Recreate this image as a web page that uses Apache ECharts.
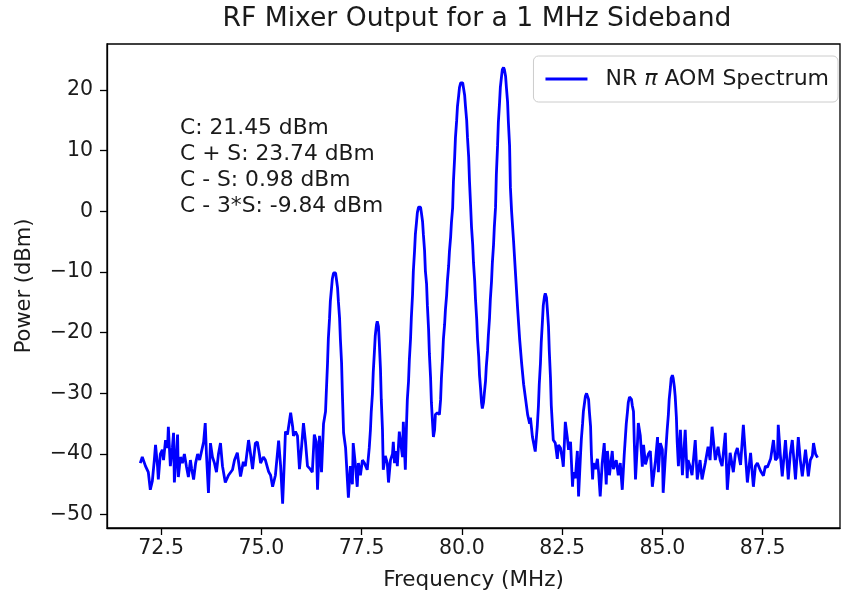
<!DOCTYPE html>
<html><head><meta charset="utf-8">
<script src="https://cdn.jsdelivr.net/npm/echarts@6/dist/echarts.min.js"></script>
<style>html,body{margin:0;padding:0;background:#fff}#c{width:844px;height:601px}</style>
</head><body><div id="c"></div>
<script>
// Frequency (MHz) samples
const freq = [
71.98,72.03,72.11,72.18,72.23,72.28,72.33,72.36,72.41,72.43,72.48,72.53,72.56,72.61,72.66,72.68,72.73,72.78,72.81,72.83,
72.88,72.91,72.93,72.98,73.03,73.08,73.13,73.18,73.23,73.26,73.31,73.36,73.41,73.46,73.51,73.56,73.60,73.63,73.68,73.73,
73.78,73.83,73.88,73.93,73.98,74.03,74.10,74.18,74.28,74.33,74.40,74.48,74.55,74.60,74.68,74.73,74.78,74.85,74.90,74.95,
74.98,75.05,75.10,75.18,75.23,75.28,75.35,75.43,75.48,75.53,75.58,75.60,75.65,75.73,75.78,75.80,75.85,75.90,75.95,76.00,
76.05,76.10,76.15,76.22,76.27,76.32,76.37,76.40,76.45,76.50,76.55,76.60,76.62,76.65,76.67,76.70,76.72,76.75,76.77,76.80,
76.82,76.85,76.87,76.90,76.92,76.95,76.97,77.00,77.02,77.05,77.10,77.12,77.17,77.22,77.27,77.29,77.34,77.39,77.42,77.47,
77.52,77.57,77.59,77.64,77.69,77.72,77.74,77.77,77.79,77.82,77.84,77.87,77.89,77.92,77.94,77.97,77.99,78.02,78.04,78.09,
78.14,78.17,78.22,78.27,78.29,78.32,78.37,78.39,78.44,78.49,78.52,78.54,78.59,78.62,78.64,78.67,78.69,78.72,78.74,78.77,
78.79,78.82,78.84,78.87,78.89,78.92,78.94,78.97,78.99,79.02,79.04,79.07,79.09,79.12,79.14,79.17,79.19,79.22,79.24,79.27,
79.29,79.32,79.34,79.39,79.44,79.47,79.49,79.52,79.54,79.57,79.59,79.62,79.64,79.67,79.69,79.72,79.74,79.77,79.79,79.82,
79.84,79.87,79.89,79.92,79.94,79.97,79.99,80.02,80.04,80.07,80.09,80.12,80.14,80.17,80.19,80.22,80.24,80.27,80.29,80.32,
80.34,80.37,80.39,80.42,80.44,80.47,80.49,80.51,80.54,80.56,80.59,80.61,80.64,80.66,80.69,80.71,80.74,80.76,80.79,80.81,
80.84,80.86,80.89,80.91,80.94,80.96,80.99,81.01,81.04,81.06,81.09,81.11,81.14,81.16,81.19,81.21,81.24,81.29,81.34,81.39,
81.44,81.49,81.54,81.59,81.64,81.69,81.71,81.76,81.83,81.88,81.91,81.93,81.96,81.98,82.01,82.03,82.06,82.08,82.11,82.13,
82.16,82.18,82.21,82.23,82.26,82.28,82.33,82.38,82.41,82.46,82.51,82.53,82.58,82.63,82.66,82.71,82.76,82.78,82.83,82.88,
82.91,82.96,82.98,83.01,83.03,83.06,83.08,83.11,83.13,83.16,83.18,83.21,83.23,83.26,83.28,83.33,83.38,83.41,83.45,83.50,
83.55,83.60,83.63,83.68,83.75,83.78,83.85,83.90,83.95,84.00,84.05,84.08,84.10,84.13,84.15,84.18,84.20,84.23,84.25,84.28,
84.30,84.33,84.38,84.40,84.45,84.50,84.53,84.58,84.65,84.70,84.75,84.83,84.88,84.90,84.95,85.00,85.02,85.07,85.10,85.12,
85.15,85.17,85.20,85.22,85.25,85.27,85.30,85.32,85.35,85.37,85.40,85.45,85.50,85.57,85.62,85.64,85.69,85.74,85.82,85.87,
85.94,85.99,86.07,86.14,86.19,86.24,86.32,86.39,86.44,86.49,86.57,86.62,86.69,86.77,86.82,86.87,86.95,87.02,87.07,87.12,
87.20,87.27,87.32,87.37,87.45,87.52,87.57,87.62,87.70,87.77,87.82,87.87,87.89,87.94,87.99,88.07,88.14,88.19,88.24,88.32,
88.39,88.44,88.49,88.57,88.64,88.69,88.74,88.77,88.82,88.87
];
// Power (dBm) at each frequency sample
const power = [
-41.5,-40.5,-42,-43,-45.9,-44.5,-41,-38.5,-42,-44.2,-40,-39.3,-41,-37.7,-39,-35.5,-42,-39,-36.5,-44.7,
-40,-36.8,-43.8,-40.5,-41.5,-40,-42,-43.8,-41,-42.4,-44.2,-41.5,-40,-41,-39.5,-38,-34.9,-40,-46.4,-38.2,
-40.5,-41.5,-43,-40,-38.2,-42,-44.7,-43.5,-42.6,-41,-39.8,-43.7,-41.3,-42,-37.7,-40,-42.5,-38.2,-38,-40,
-41.5,-40.5,-41,-42.9,-43.5,-45.4,-43.5,-37.8,-42,-48.2,-40,-36.3,-36.8,-33.2,-35.5,-37,-36.3,-37,-42.5,-39,
-34.9,-38,-42,-42.5,-43,-36.8,-38,-45.9,-37,-43,-35,-33,-29.7,-25,-21,-17.6,-14.8,-12.6,-11.1,-10.15,
-9.84,-10.15,-11.1,-12.6,-14.8,-17.6,-21,-25,-30,-36.5,-39,-39.3,-47.2,-42,-45,-38.2,-41.5,-45.4,-41.5,-43.5,
-41,-41.5,-41.2,-42.6,-39,-36,-33,-30,-26.5,-23,-20.5,-18.7,-18.1,-19,-21.5,-26,-31,-36,-42.6,-40.3,
-41.5,-44.7,-41,-40,-38,-41.5,-39.5,-42,-36.3,-39,-40.5,-34.7,-42.6,-35,-31,-28,-24.5,-21,-17.5,-13.7,
-9.8,-6.5,-3.8,-1.7,-0.2,0.7,0.98,0.7,-0.2,-1.7,-3.8,-6.5,-9.8,-12,-15.5,-19.5,-23.5,-27.5,-31.5,-35,
-37.2,-36,-33.5,-33.2,-33.5,-31,-27.5,-24,-21,-18.6,-16.2,-13.8,-11.4,-9,-6.6,-4.2,-1.8,0.6,5,8.9,
12.2,15,17.3,19.1,20.4,21.2,21.45,21.2,20.4,19.1,17.3,15,12.2,8.9,5,0.6,-2.5,-5.5,-8.5,-11.5,
-14.5,-17.8,-21,-24,-27,-29.5,-31.5,-32.5,-31.5,-30,-28,-25.5,-23,-20.5,-17.5,-14.5,-11.5,-8.5,-5.5,-2.5,
0.7,6.1,10.8,14.7,18,20.5,22.3,23.4,23.74,23.4,22.3,20.5,18,14.7,10.8,4,0,-5,-10.5,-16,
-21,-25,-28.5,-31,-33.5,-35,-34,-37.2,-39.6,-35.5,-32,-28.5,-25,-21.5,-18,-15.5,-14,-13.5,-14.2,-16,
-19,-23,-27.5,-32,-35.5,-37.7,-38.2,-40.8,-38.5,-39,-41,-42.1,-34.7,-37.3,-39.3,-38,-45.4,-43,-44,-39.5,
-47,-40,-37.5,-35,-33,-31.5,-30.5,-30,-30.1,-31,-33,-35.5,-40,-44.2,-41.5,-42.5,-40.8,-43,-47,-41.5,
-38.2,-45,-39.5,-43.5,-39.5,-42.5,-41,-43.5,-41.5,-45.9,-40,-37,-35,-33,-31.5,-30.6,-30.4,-31,-32,-33,
-38,-44.2,-38,-34.9,-37,-42.1,-38.5,-41.7,-40,-39.5,-45.4,-41,-37.2,-43,-38.2,-39.3,-46.4,-41,-38,-36,
-33.5,-31,-29,-27.5,-27,-27.5,-29,-30.5,-34,-38,-42,-36,-43.5,-36,-44,-41,-42,-43.5,-37.7,-44.2,
-41,-44.2,-41.5,-38.8,-41,-35.5,-41,-38.8,-41,-42,-36.5,-45.9,-39.8,-43,-40,-39,-41.8,-35.2,-40,-44.7,
-39.8,-45.4,-42,-41.5,-42.8,-43.6,-42,-42.2,-40.8,-37.7,-41,-40.6,-35.2,-40,-43.7,-37.7,-44.2,-40,-37.7,-44.2,
-37.2,-41,-43.7,-39.3,-43.7,-41,-40.3,-38.2,-40,-40.6
];
const xTicks = [72.5, 75, 77.5, 80, 82.5, 85, 87.5];
const yTicks = [-50, -40, -30, -20, -10, 0, 10, 20];
const seriesName = 'NR π AOM Spectrum';
const titleText = 'RF Mixer Output for a 1 MHz Sideband';
const annotationLines = ['C: 21.45 dBm', 'C + S: 23.74 dBm', 'C - S: 0.98 dBm', 'C - 3*S: -9.84 dBm'];

const FONT = 'DejaVu Sans';
const TXT = '#1a1a1a';
const data = freq.map((f, i) => [f, power[i]]);
const chart = echarts.init(document.getElementById('c'), null, { renderer: 'canvas' });
chart.setOption({
  animation: false,
  backgroundColor: '#fff',
  grid: { left: 107, right: 4, top: 44, bottom: 73, show: true, borderColor: '#000', borderWidth: 1.3, backgroundColor: 'transparent' },
  xAxis: {
    type: 'value', min: 71.15, max: 89.43,
    name: 'Frequency (MHz)', nameLocation: 'middle', nameGap: 41,
    nameTextStyle: { fontFamily: FONT, fontSize: 21.5, color: TXT },
    axisLine: { show: true, onZero: false, lineStyle: { color: '#000', width: 1.3 } },
    axisTick: { show: true, customValues: xTicks, length: 7, lineStyle: { color: '#000', width: 1.3 } },
    axisLabel: { customValues: xTicks, formatter: v => v.toFixed(1), margin: 10, fontFamily: FONT, fontSize: 20.5, color: TXT },
    splitLine: { show: false }
  },
  yAxis: {
    type: 'value', min: -52.2, max: 27.6,
    name: 'Power (dBm)', nameLocation: 'middle', nameGap: 72, nameRotate: 90,
    nameTextStyle: { fontFamily: FONT, fontSize: 21, color: TXT },
    axisLine: { show: true, onZero: false, lineStyle: { color: '#000', width: 1.3 } },
    axisTick: { show: true, customValues: yTicks, length: 7, lineStyle: { color: '#000', width: 1.3 } },
    axisLabel: { customValues: yTicks, formatter: v => (v < 0 ? '\u2212' + Math.abs(v) : String(v)), margin: 14, fontFamily: FONT, fontSize: 20.5, color: TXT },
    splitLine: { show: false }
  },
  legend: {
    right: 6, top: 56,
    backgroundColor: 'rgba(255,255,255,0.8)', borderColor: '#cccccc', borderWidth: 1, borderRadius: 5,
    padding: [12, 9, 12, 12],
    icon: 'rect', itemWidth: 42, itemHeight: 3,
    formatter: () => 'NR {pi|π} AOM Spectrum',
    textStyle: { fontFamily: FONT, fontSize: 22, color: TXT, padding: [0, 0, 0, 13],
      rich: { pi: { fontFamily: FONT, fontSize: 22, fontStyle: 'italic', color: TXT } } },
    data: [seriesName]
  },
  series: [{
    type: 'line', name: seriesName, data: data,
    symbol: 'none', showSymbol: false,
    lineStyle: { color: '#0000ff', width: 2.8 }, itemStyle: { color: '#0000ff' }
  }],
  graphic: [
    { type: 'text', x: 477, y: 19, style: { text: titleText, font: '26.6px "DejaVu Sans"', fill: TXT, textAlign: 'center', textVerticalAlign: 'middle' } },
    { type: 'text', x: 180, y: 115, style: { text: annotationLines.join('\n'), font: '21.8px "DejaVu Sans"', lineHeight: 26, fill: TXT, textAlign: 'left', textVerticalAlign: 'top' } }
  ]
});
</script></body></html>
